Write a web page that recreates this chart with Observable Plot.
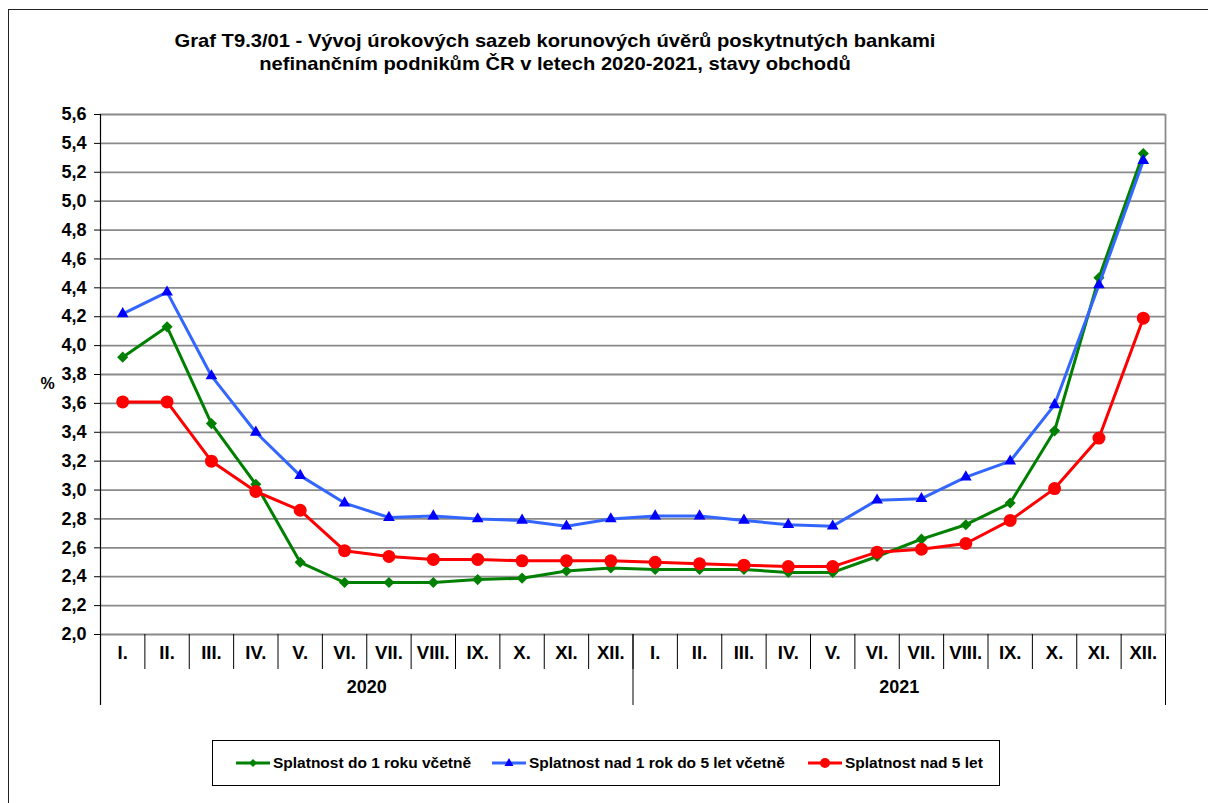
<!DOCTYPE html>
<html>
<head>
<meta charset="utf-8">
<script src="https://cdn.jsdelivr.net/npm/d3@7"></script>
<script src="https://cdn.jsdelivr.net/npm/@observablehq/plot@0.6"></script>
<style>
  html, body { margin: 0; padding: 0; background: #fff; }
  #wrap { position: relative; width: 1208px; height: 803px; overflow: hidden; font-family: "Liberation Sans", Arial, sans-serif; font-weight: bold; color: #000; background: #fff; }
  #frame { position: absolute; left: 8px; top: 9px; width: 1300px; height: 900px; border-top: 1px solid #222; border-left: 1px solid #222; pointer-events: none; z-index: 10; }
  #title { position: absolute; left: 0; top: 29px; width: 1110px; text-align: center; font-size: 18.5px; line-height: 23px; transform: scaleX(1.09); transform-origin: 555px 0; }
  #chart { position: absolute; left: 0; top: 100px; }
  #legend { position: absolute; left: 212px; top: 740px; width: 786px; height: 44px; border: 1px solid #000; font-size: 15.5px; }
  .item { position: absolute; top: 0; height: 44px; display: flex; align-items: center; white-space: nowrap; }
  .item svg { margin-right: 3px; }
</style>
</head>
<body>
<div id="wrap">
  <div id="frame"></div>
  <div id="title">Graf T9.3/01 - Vývoj úrokových sazeb korunových úvěrů poskytnutých bankami<br>nefinančním podnikům ČR v letech 2020-2021, stavy obchodů</div>
  <div id="chart"></div>
  <div id="legend"></div>
</div>
<script>
// ---- data ----
const months = ["I.", "II.", "III.", "IV.", "V.", "VI.", "VII.", "VIII.", "IX.", "X.", "XI.", "XII."];
const years = ["2020", "2021"];
const seriesNames = ["Splatnost do 1 roku včetně", "Splatnost nad 1 rok do 5 let včetně", "Splatnost nad 5 let"];
// Splatnost do 1 roku včetně
const shortTerm = [3.92, 4.13, 3.46, 3.04, 2.50, 2.36, 2.36, 2.36, 2.38, 2.39, 2.44, 2.46,
                   2.45, 2.45, 2.45, 2.43, 2.43, 2.54, 2.66, 2.76, 2.91, 3.41, 4.47, 5.33];
// Splatnost nad 1 rok do 5 let včetně
const midTerm = [4.22, 4.37, 3.79, 3.40, 3.10, 2.91, 2.81, 2.82, 2.80, 2.79, 2.75, 2.80,
                 2.82, 2.82, 2.79, 2.76, 2.75, 2.93, 2.94, 3.09, 3.20, 3.59, 4.42, 5.28];
// Splatnost nad 5 let
const longTerm = [3.61, 3.61, 3.20, 2.99, 2.86, 2.58, 2.54, 2.52, 2.52, 2.51, 2.51, 2.51,
                  2.50, 2.49, 2.48, 2.47, 2.47, 2.57, 2.59, 2.63, 2.79, 3.01, 3.36, 4.19];
const yTicks = [2.0, 2.2, 2.4, 2.6, 2.8, 3.0, 3.2, 3.4, 3.6, 3.8, 4.0, 4.2, 4.4, 4.6, 4.8, 5.0, 5.2, 5.4, 5.6];

// ---- styles ----
const colors = { short: "#008000", midLine: "#3366FF", midDot: "#0000FF", long: "#FF0000" };

// ---- table ----
const data = years.flatMap((yr, k) => months.map((m, j) => {
  const i = k * months.length + j;
  return { i, month: m, year: yr, short: shortTerm[i], mid: midTerm[i], long: longTerm[i] };
}));
const n = data.length;
const yearInfo = years.map((yr, k) => ({
  year: yr,
  center: k * months.length + (months.length - 1) / 2,
  end: (k + 1) * months.length - 0.5
}));

const W = 1208, H = 620, mT = 14, mB = 86, mL = 100, mR = 43;
const frameH = H - mT - mB;

const chart = Plot.plot({
  width: W,
  height: H,
  marginTop: mT,
  marginBottom: mB,
  marginLeft: mL,
  marginRight: mR,
  style: { fontFamily: "'Liberation Sans', Arial, sans-serif", fontWeight: "bold", background: "transparent", color: "#000" },
  x: { domain: [-0.5, n - 0.5], axis: null },
  y: { domain: [yTicks[0], yTicks[yTicks.length - 1]], axis: null },
  marks: [
    Plot.ruleY(yTicks, { y: d => d, stroke: "#8a8a8a", strokeWidth: 1.8 }),
    Plot.ruleX([n - 0.5], { x: d => d, stroke: "#8a8a8a", strokeWidth: 1.8 }),
    // month separators below the plot
    Plot.ruleX(data.slice(0, -1), { x: d => d.i + 0.5, stroke: "#000", strokeWidth: 1, insetTop: frameH, insetBottom: -35 }),
    // year separators
    Plot.ruleX(yearInfo, { x: "end", stroke: "#000", strokeWidth: 1, insetTop: frameH, insetBottom: -71 }),
    Plot.ruleX([-0.5], { x: d => d, stroke: "#000", strokeWidth: 1.2, insetBottom: -71 }),
    Plot.axisY({ ticks: yTicks, tickFormat: d => d.toFixed(1).replace(".", ","), tickSize: 6, tickPadding: 8, fontSize: 18, fontWeight: "bold", stroke: "#000", fill: "#000" }),
    Plot.text(["%"], { text: d => d, frameAnchor: "left", dx: -60, dy: 9, fontSize: 16, fontWeight: "bold", fill: "#000" }),
    Plot.text(data, { x: "i", text: "month", frameAnchor: "bottom", dy: 24, fontSize: 18.5, fontWeight: "bold", fill: "#000" }),
    Plot.text(yearInfo, { x: "center", text: "year", frameAnchor: "bottom", dy: 58, fontSize: 18, fontWeight: "bold", fill: "#000" }),
    // series
    Plot.line(data, { x: "i", y: "short", stroke: colors.short, strokeWidth: 3 }),
    Plot.dot(data, { x: "i", y: "short", symbol: "diamond2", r: 5, fill: colors.short, stroke: "none" }),
    Plot.line(data, { x: "i", y: "mid", stroke: colors.midLine, strokeWidth: 3 }),
    Plot.dot(data, { x: "i", y: "mid", symbol: "triangle2", r: 5.6, fill: colors.midDot, stroke: "none" }),
    Plot.line(data, { x: "i", y: "long", stroke: colors.long, strokeWidth: 3 }),
    Plot.dot(data, { x: "i", y: "long", r: 6.5, fill: colors.long, stroke: "none" })
  ]
});
document.getElementById("chart").appendChild(chart);

// ---- legend ----
const legend = document.getElementById("legend");
const swatchKinds = [
  { line: colors.short, dot: colors.short, shape: "diamond" },
  { line: colors.midLine, dot: colors.midDot, shape: "triangle" },
  { line: colors.long, dot: colors.long, shape: "circle" }
];
const lefts = [23, 279, 595];
seriesNames.forEach((name, k) => {
  const s = swatchKinds[k];
  const item = document.createElement("div");
  item.className = "item";
  item.style.left = lefts[k] + "px";
  let marker;
  if (s.shape === "diamond") marker = `<path d="M17,3 L21,7 L17,11 L13,7 Z" fill="${s.dot}"/>`;
  else if (s.shape === "triangle") marker = `<path d="M17,2 L21.5,10 L12.5,10 Z" fill="${s.dot}"/>`;
  else marker = `<circle cx="17" cy="7" r="5" fill="${s.dot}"/>`;
  item.innerHTML = `<svg width="34" height="14" viewBox="0 0 34 14"><line x1="0" y1="7" x2="34" y2="7" stroke="${s.line}" stroke-width="3"/>${marker}</svg><span>${name}</span>`;
  legend.appendChild(item);
});
</script>
</body>
</html>
